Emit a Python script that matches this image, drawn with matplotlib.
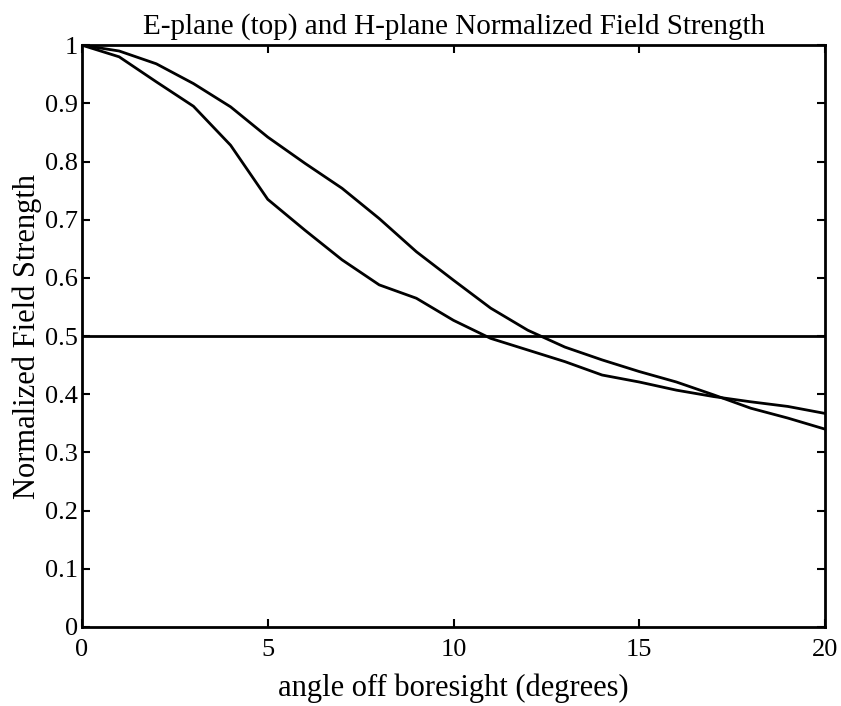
import matplotlib.pyplot as plt
import numpy as np

# angle off boresight (degrees)
angle = np.arange(0, 21)

# normalized field strength
e_plane = [1.0, 0.99, 0.968, 0.934, 0.894, 0.842, 0.797, 0.754, 0.702, 0.645, 0.596,
           0.548, 0.51, 0.481, 0.459, 0.439, 0.421, 0.399, 0.376, 0.359, 0.340]
h_plane = [1.0, 0.98, 0.937, 0.895, 0.828, 0.735, 0.682, 0.631, 0.588, 0.565, 0.527,
           0.496, 0.476, 0.456, 0.433, 0.421, 0.407, 0.396, 0.387, 0.379, 0.367]
half_level = 0.5

plt.rcParams['font.family'] = ['Liberation Serif', 'DejaVu Serif']

fig = plt.figure(figsize=(8.41, 7.06), dpi=100)
ax = fig.add_axes([0.0975, 0.112, 0.8835, 0.824])

ax.plot(angle, e_plane, color='black', linewidth=2)
ax.plot(angle, h_plane, color='black', linewidth=2)
ax.axhline(half_level, color='black', linewidth=2)

ax.set_xlim(0, 20)
ax.set_ylim(0, 1)
ax.set_xticks([0, 5, 10, 15, 20])
ax.set_yticks(np.arange(0, 1.01, 0.1))
ax.set_yticklabels(['0', '0.1', '0.2', '0.3', '0.4', '0.5', '0.6', '0.7', '0.8', '0.9', '1'])
ax.tick_params(direction='in', top=True, right=True, labelsize=19, length=6, width=1.5)
ax.tick_params(axis='x', pad=9)
ax.tick_params(axis='y', pad=3)
for s in ax.spines.values():
    s.set_linewidth(2)

ax.set_title('E-plane (top) and H-plane Normalized Field Strength', fontsize=21, pad=8)
ax.set_xlabel('angle off boresight (degrees)', fontsize=22, labelpad=9)
ax.set_ylabel('Normalized Field Strength', fontsize=22, labelpad=2)

plt.savefig('out.png', dpi=100)
